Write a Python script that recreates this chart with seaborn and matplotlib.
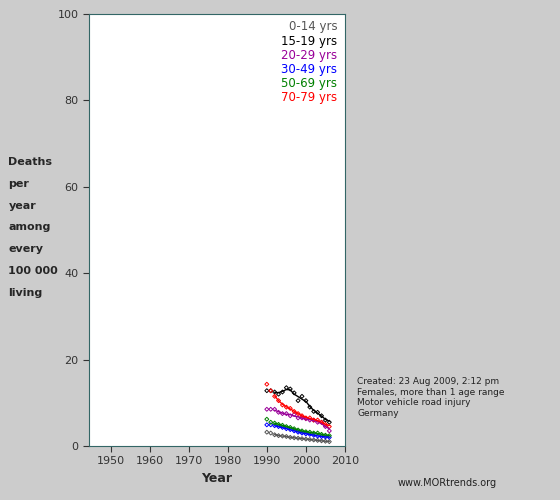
import matplotlib
matplotlib.use("Agg")
import matplotlib.pyplot as plt
import seaborn as sns
import pandas as pd
import numpy as np

years = list(range(1990, 2007))
labels = ["0-14 yrs", "15-19 yrs", "20-29 yrs", "30-49 yrs", "50-69 yrs", "70-79 yrs"]
colors = ["#555555", "#000000", "#990099", "#0000ff", "#008000", "#ff0000"]
v0_14 = [3.2,3.0,2.6,2.4,2.3,2.2,2.0,1.9,1.8,1.7,1.6,1.5,1.4,1.3,1.2,1.1,1.0]
v15_19 = [12.8,12.8,12.5,12.0,12.5,13.5,13.2,12.3,10.5,11.5,10.5,9.0,8.0,7.8,7.0,6.0,5.5]
v20_29 = [8.5,8.5,8.5,7.8,7.5,7.5,7.0,7.3,6.5,6.5,6.3,6.0,6.0,5.5,5.5,4.5,3.5]
v30_49 = [4.9,4.9,4.7,4.5,4.3,4.0,3.8,3.5,3.2,3.0,2.8,2.7,2.5,2.3,2.2,2.1,2.0]
v50_69 = [6.2,5.5,5.3,5.0,4.8,4.5,4.3,4.0,3.7,3.5,3.3,3.2,3.0,3.0,2.7,2.5,2.4]
v70_79 = [14.3,12.8,11.5,10.5,9.5,9.0,8.7,8.0,7.5,7.0,6.5,6.5,6.0,6.0,5.5,5.0,4.5]
series = [v0_14, v15_19, v20_29, v30_49, v50_69, v70_79]

sns.set_style("white")
plt.rcParams['font.family'] = ['DejaVu Sans']
fig = plt.figure(figsize=(5.6, 5.0), dpi=100, facecolor="#cccccc")
ax = fig.add_axes([0.159, 0.108, 0.457, 0.864])
ax.set_facecolor("white")

for lab, col, vals in zip(labels, colors, series):
    df = pd.DataFrame({"Year": years, "v": vals})
    df["s"] = df["v"].rolling(3, center=True, min_periods=1).mean()
    sns.scatterplot(data=df, x="Year", y="v", ax=ax, marker="D", s=4,
                    facecolor="none", edgecolor=col, linewidth=0.7, legend=False)
    sns.lineplot(data=df[df.Year >= 1992], x="Year", y="s", ax=ax, color=col, lw=1, legend=False)

ax.set_xlim(1944.5, 2010)
ax.set_ylim(0, 100)
ax.set_xticks(range(1950, 2011, 10))
ax.set_yticks(range(0, 101, 20))
ax.tick_params(labelsize=8, colors="#333333", length=4, direction="out", bottom=True, left=True)
for t in ax.get_xticklabels() + ax.get_yticklabels():
    t.set_color("#333333")
for sp in ax.spines.values():
    sp.set_color("#336666"); sp.set_linewidth(0.8)
ax.set_xlabel("Year", fontsize=9, fontweight="bold", labelpad=4)
ax.set_ylabel("")

for i, (lab, col) in enumerate(zip(labels, colors)):
    ax.text(0.97, 0.985 - i * 0.0325, lab, transform=ax.transAxes, ha="right", va="top",
            color=col, fontsize=8.5)

fig.text(0.015, 0.545, "Deaths\n\nper\n\nyear\n\namong\n\nevery\n\n100 000\n\nliving",
         fontsize=8, fontweight="bold", va="center", ha="left", linespacing=1.12)
fig.text(0.638, 0.205, "Created: 23 Aug 2009, 2:12 pm\nFemales, more than 1 age range\nMotor vehicle road injury\nGermany",
         fontsize=6.5, va="center", ha="left", color="#222222", linespacing=1.2)
fig.text(0.71, 0.035, "www.MORtrends.org", fontsize=7, va="center", ha="left", color="#222222")

fig.savefig("out.png", dpi=100, facecolor=fig.get_facecolor())
